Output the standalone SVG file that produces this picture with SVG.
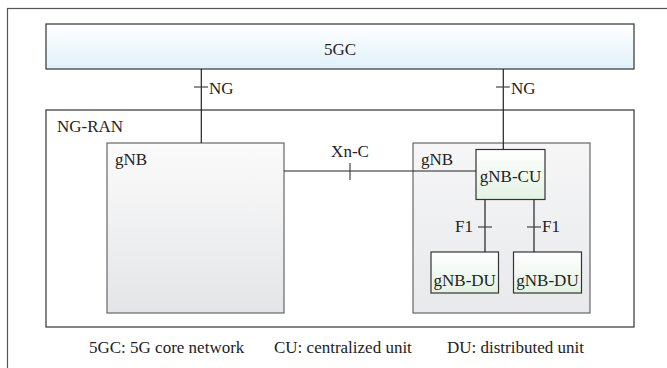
<svg xmlns="http://www.w3.org/2000/svg" width="667" height="368" viewBox="0 0 667 368" font-family="'Liberation Serif', 'Times New Roman', serif" font-size="17">
<defs>
<linearGradient id="gBlue" x1="0" y1="0" x2="0" y2="1"><stop offset="0" stop-color="#ffffff"/><stop offset="1" stop-color="#e0f1fa"/></linearGradient>
<linearGradient id="gGray" x1="0" y1="0" x2="0" y2="1"><stop offset="0" stop-color="#fbfbfb"/><stop offset="1" stop-color="#e4e5e7"/></linearGradient>
<linearGradient id="gGray2" x1="0" y1="0" x2="0" y2="1"><stop offset="0" stop-color="#f6f6f7"/><stop offset="1" stop-color="#e8e9eb"/></linearGradient>
<linearGradient id="gGreen" x1="0" y1="0" x2="0" y2="1"><stop offset="0" stop-color="#ffffff"/><stop offset="1" stop-color="#e3f2e3"/></linearGradient>
</defs>
<style>
text{font-family:'Liberation Serif','Times New Roman',serif;font-size:17px;fill:#222}
.box{stroke:#333;stroke-width:1.2}
.gnb{stroke:#666;stroke-width:1.2}
.ln{stroke:#222;stroke-width:1.2;fill:none}
.tk{stroke:#444;stroke-width:1.2}
.mid{text-anchor:middle}
</style>
<rect x="7.5" y="8.5" width="700" height="400" fill="#fff" stroke="#555" stroke-width="1.2"/>
<g id="core">
<rect class="box" x="46" y="24" width="588" height="45" fill="url(#gBlue)"/>
<text class="mid" x="340" y="55">5GC</text>
</g>
<g id="ngran">
<rect class="box" x="46" y="110" width="588" height="217" fill="#fff"/>
<text x="57" y="132">NG-RAN</text>
</g>
<g id="gnb1">
<rect class="gnb" x="107" y="143" width="177" height="170" fill="url(#gGray)"/>
<text x="115" y="165">gNB</text>
</g>
<g id="gnb2">
<rect class="gnb" x="413" y="143" width="177" height="170" fill="url(#gGray2)"/>
<text x="421" y="165">gNB</text>
</g>
<g id="cu">
<rect class="box" x="476" y="149.5" width="69" height="50" fill="url(#gGreen)"/>
<text class="mid" x="510.5" y="182">gNB-CU</text>
</g>
<g id="du1">
<rect class="box" x="431" y="252" width="67.5" height="41" fill="url(#gGreen)"/>
<text class="mid" x="464.7" y="286">gNB-DU</text>
</g>
<g id="du2">
<rect class="box" x="513.5" y="252" width="68" height="41" fill="url(#gGreen)"/>
<text class="mid" x="547.5" y="286">gNB-DU</text>
</g>
<g id="connectors">
<line class="ln" x1="201.3" y1="69" x2="201.3" y2="143"/>
<line class="tk" x1="194" y1="87" x2="208" y2="87"/>
<text x="209" y="94">NG</text>
<line class="ln" x1="503.3" y1="69" x2="503.3" y2="149.5"/>
<line class="tk" x1="496" y1="87" x2="510" y2="87"/>
<text x="511" y="94">NG</text>
<line class="ln" x1="284" y1="171" x2="476" y2="171"/>
<line class="tk" x1="350" y1="163" x2="350" y2="180"/>
<text class="mid" x="350" y="157">Xn-C</text>
<line class="ln" x1="485" y1="199.5" x2="485" y2="252"/>
<line class="tk" x1="478" y1="227" x2="492" y2="227"/>
<text x="473" y="232" text-anchor="end">F1</text>
<line class="ln" x1="534" y1="199.5" x2="534" y2="252"/>
<line class="tk" x1="527" y1="227" x2="541" y2="227"/>
<text x="542" y="232">F1</text>
</g>
<g id="legend">
<text x="89" y="353">5GC: 5G core network</text>
<text x="274" y="353">CU: centralized unit</text>
<text x="447" y="353">DU: distributed unit</text>
</g>
</svg>
